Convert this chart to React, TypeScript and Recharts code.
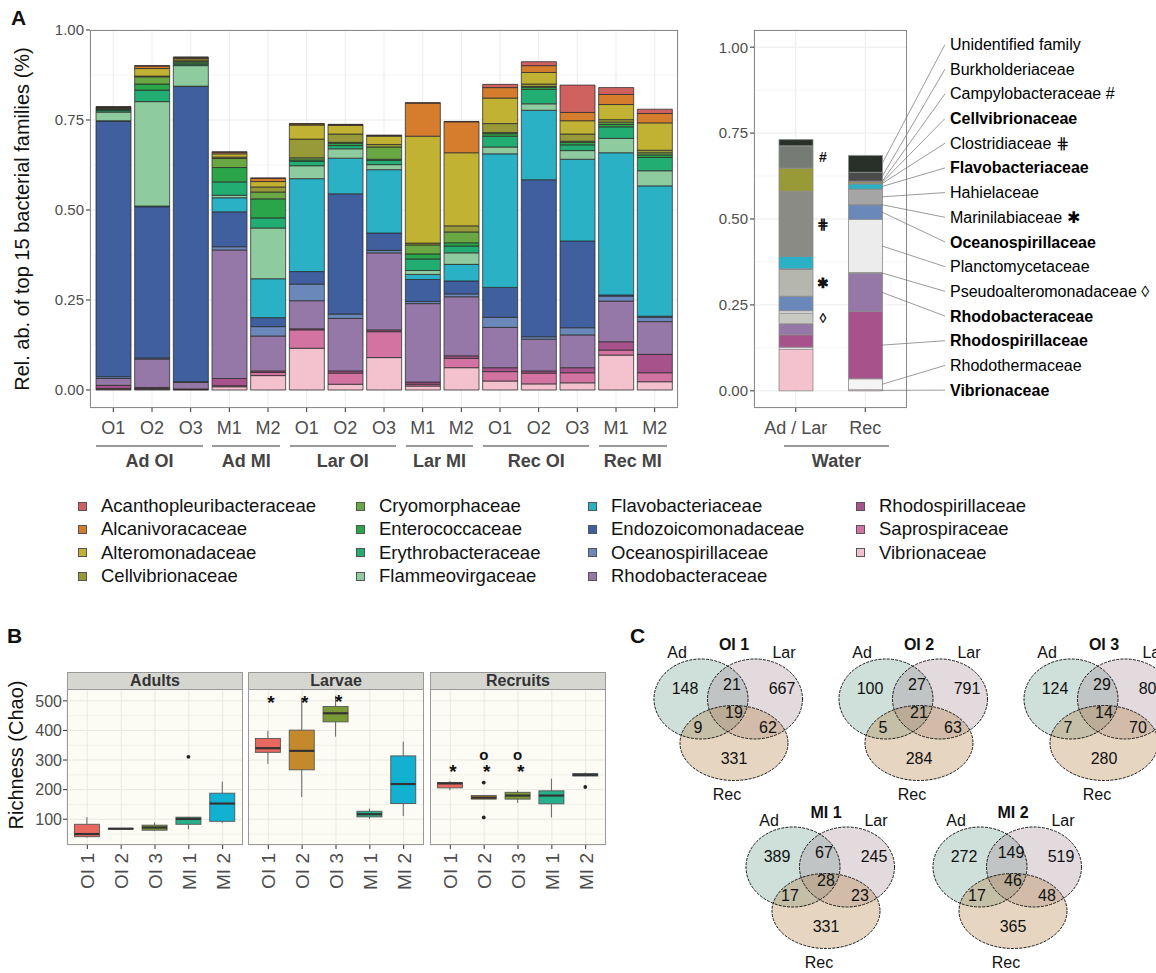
import React from 'react';
import {
  BarChart, Bar, XAxis, YAxis, CartesianGrid, ComposedChart, Line,
  ScatterChart, Scatter, LabelList,
} from 'recharts';

const FONT = '"Liberation Sans", Arial, Helvetica, sans-serif';
const NARROW = '"Liberation Sans Narrow", "Liberation Sans", Arial, sans-serif';
const AXIS_TEXT = '#4d4d4d';

// ---------- A: top 15 families in coral samples ----------
const groupNames = ['Ad OI', 'Ad MI', 'Lar OI', 'Lar MI', 'Rec OI', 'Rec MI'];
const groupSamples = [['O1', 'O2', 'O3'], ['M1', 'M2'], ['O1', 'O2', 'O3'], ['M1', 'M2'], ['O1', 'O2', 'O3'], ['M1', 'M2']];

// one value per bar, bars in the order of groupSamples
const acanthopleuribacteraceae = [0.001, 0.001, 0.001, 0.002, 0.001, 0.001, 0.001, 0.001, 0.001, 0.001, 0.009, 0.011, 0.076, 0.019, 0.012];
const alcanivoracaceae = [0.001, 0.007, 0.003, 0.004, 0.009, 0.003, 0.002, 0.002, 0.092, 0.086, 0.029, 0.019, 0.023, 0.028, 0.026];
const alteromonadaceae = [0.002, 0.021, 0.004, 0.009, 0.015, 0.039, 0.024, 0.023, 0.297, 0.203, 0.071, 0.032, 0.037, 0.042, 0.076];
const cellvibrionaceae = [0.002, 0.002, 0.004, 0.004, 0.014, 0.052, 0.023, 0.007, 0.005, 0.017, 0.025, 0.007, 0.02, 0.007, 0.007];
const cryomorphaceae = [0.002, 0.02, 0.004, 0.025, 0.019, 0.006, 0.003, 0.034, 0.025, 0.03, 0.003, 0.002, 0.003, 0.006, 0.006];
const enterococcaceae = [0.003, 0.017, 0.004, 0.04, 0.053, 0.004, 0.006, 0.003, 0.014, 0.009, 0.007, 0.006, 0.007, 0.007, 0.007];
const erythrobacteraceae = [0.004, 0.032, 0.004, 0.037, 0.028, 0.012, 0.009, 0.012, 0.032, 0.019, 0.03, 0.04, 0.016, 0.032, 0.037];
const flammeovirgaceae = [0.024, 0.29, 0.057, 0.007, 0.141, 0.036, 0.026, 0.014, 0.011, 0.032, 0.019, 0.018, 0.024, 0.04, 0.042];
const flavobacteriaceae = [0.002, 0.002, 0.001, 0.039, 0.108, 0.258, 0.099, 0.176, 0.014, 0.046, 0.371, 0.193, 0.227, 0.395, 0.362];
const endozoicomonadaceae = [0.709, 0.42, 0.82, 0.097, 0.025, 0.035, 0.334, 0.048, 0.061, 0.036, 0.083, 0.436, 0.241, 0.003, 0.003];
const oceanospirillaceae = [0.005, 0.003, 0.002, 0.009, 0.026, 0.046, 0.012, 0.007, 0.006, 0.008, 0.028, 0.007, 0.02, 0.014, 0.012];
const rhodobacteraceae = [0.019, 0.079, 0.018, 0.357, 0.097, 0.078, 0.146, 0.214, 0.218, 0.164, 0.112, 0.088, 0.091, 0.113, 0.091];
const rhodospirillaceae = [0.009, 0.003, 0.001, 0.02, 0.004, 0.003, 0.006, 0.005, 0.006, 0.007, 0.011, 0.006, 0.014, 0.023, 0.051];
const saprospiraceae = [0.002, 0.002, 0.001, 0.003, 0.009, 0.051, 0.031, 0.072, 0.005, 0.026, 0.026, 0.03, 0.028, 0.014, 0.025];
const vibrionaceae = [0.002, 0.002, 0.001, 0.009, 0.04, 0.116, 0.016, 0.09, 0.011, 0.062, 0.025, 0.017, 0.02, 0.097, 0.023];

// legend order (top of stack first)
const families = [
  { name: 'Acanthopleuribacteraceae', color: '#cf625f', values: acanthopleuribacteraceae },
  { name: 'Alcanivoracaceae', color: '#d67d2d', values: alcanivoracaceae },
  { name: 'Alteromonadaceae', color: '#c2b233', values: alteromonadaceae },
  { name: 'Cellvibrionaceae', color: '#979a36', values: cellvibrionaceae },
  { name: 'Cryomorphaceae', color: '#6aa843', values: cryomorphaceae },
  { name: 'Enterococcaceae', color: '#2ba549', values: enterococcaceae },
  { name: 'Erythrobacteraceae', color: '#22ad72', values: erythrobacteraceae },
  { name: 'Flammeovirgaceae', color: '#8ecb9e', values: flammeovirgaceae },
  { name: 'Flavobacteriaceae', color: '#2ab1c6', values: flavobacteriaceae },
  { name: 'Endozoicomonadaceae', color: '#3f5f9f', values: endozoicomonadaceae },
  { name: 'Oceanospirillaceae', color: '#6a89ba', values: oceanospirillaceae },
  { name: 'Rhodobacteraceae', color: '#9578a7', values: rhodobacteraceae },
  { name: 'Rhodospirillaceae', color: '#a8528b', values: rhodospirillaceae },
  { name: 'Saprospiraceae', color: '#d273a1', values: saprospiraceae },
  { name: 'Vibrionaceae', color: '#f4c2cf', values: vibrionaceae },
];

const mainKeys: string[] = [];
groupNames.forEach((g, gi) => groupSamples[gi].forEach((s) => mainKeys.push(`${g}|${s}`)));
const mainRows = mainKeys.map((key, i) => {
  const row: any = { key };
  families.forEach((f) => { row[f.name] = f.values[i]; });
  return row;
});

// ---------- A (right): water ----------
const waterSites = ['Ad / Lar', 'Rec'];
// bottom of the stack first
const waterFamilyNames = [
  'Vibrionaceae', 'Rhodothermaceae', 'Rhodospirillaceae', 'Rhodobacteraceae', 'Pseudoalteromonadaceae',
  'Planctomycetaceae', 'Oceanospirillaceae', 'Marinilabiaceae', 'Hahielaceae', 'Flavobacteriaceae',
  'Clostridiaceae', 'Cellvibrionaceae', 'Campylobacteraceae', 'Burkholderiaceae', 'Unidentified family',
];
const waterColors = [
  '#f4c2cf', '#f4f4f4', '#a8528b', '#9578a7', '#c8c9c3',
  '#ececec', '#6a89ba', '#b5b7af', '#a5a5a5', '#2ab1c6',
  '#8a8b84', '#979a36', '#777b76', '#4b4b4b', '#283029',
];
const waterAdLar = [0.121, 0.006, 0.036, 0.032, 0.031, 0.007, 0.042, 0.078, 0.002, 0.036, 0.19, 0.067, 0.063, 0.002, 0.018];
const waterRec = [0.003, 0.032, 0.196, 0.111, 0.002, 0.155, 0.042, 0.001, 0.045, 0.015, 0.002, 0.004, 0.002, 0.026, 0.049];
const waterMarks: Record<string, string> = {
  Campylobacteraceae: '#', Clostridiaceae: '⋕', Marinilabiaceae: '✱', Pseudoalteromonadaceae: '◊',
};
const sharedFamilies = ['Cellvibrionaceae', 'Flavobacteriaceae', 'Oceanospirillaceae', 'Rhodobacteraceae', 'Rhodospirillaceae', 'Vibrionaceae'];

const waterRows = waterSites.map((site, i) => {
  const row: any = { site };
  waterFamilyNames.forEach((n, j) => { row[n] = (i === 0 ? waterAdLar : waterRec)[j]; });
  return row;
});

// label column, top to bottom
const waterLabelNames = [...waterFamilyNames].reverse();
const labelPos = waterLabelNames.map((_, i) => 1.008 - (i * 1.006) / 14);
const leaders = (() => {
  let cum = 0;
  return waterFamilyNames.map((n, i) => {
    const mid = cum + waterRec[i] / 2;
    cum += waterRec[i];
    return { name: n, pts: [{ x: 0, y: mid }, { x: 1, y: labelPos[14 - i] }] };
  });
})();

// ---------- B: Chao richness ----------
const boxCats = ['OI 1', 'OI 2', 'OI 3', 'MI 1', 'MI 2'];
const boxColors = ['#e8685f', '#c4892b', '#7b9a36', '#26b08b', '#12b1d2'];
// [lower whisker, Q1, median, Q3, upper whisker]
const adultsStats = [[38, 41, 50, 83, 107], [66, 67, 68, 69, 70], [60, 63, 72, 80, 89], [66, 83, 101, 107, 108], [87, 93, 153, 188, 227]];
const larvaeStats = [[287, 326, 340, 373, 399], [175, 267, 331, 401, 506], [379, 429, 458, 481, 517], [101, 108, 117, 127, 136], [111, 153, 219, 314, 362]];
const recruitsStats = [[198, 206, 221, 224, 229], [167, 168, 173, 180, 181], [155, 168, 180, 191, 198], [106, 152, 180, 196, 237], [245, 246, 250, 254, 258]];
const adultsOutliers = [[], [], [], [311], []];
const larvaeOutliers = [[], [], [], [], []];
const recruitsOutliers = [[], [224, 106], [], [], [209]];
const adultsStars = [null, null, null, null, null];
const larvaeStars = [505, 505, 508, null, null];
const recruitsStars = [274, 274, 274, null, null];
const recruitsCircles = [null, 315, 315, null, null];

const facets = [
  { title: 'Adults', stats: adultsStats, outliers: adultsOutliers, stars: adultsStars, circles: [null, null, null, null, null], left: 0, plotLeft: 67 },
  { title: 'Larvae', stats: larvaeStats, outliers: larvaeOutliers, stars: larvaeStars, circles: [null, null, null, null, null], left: 248, plotLeft: 248 },
  { title: 'Recruits', stats: recruitsStats, outliers: recruitsOutliers, stars: recruitsStars, circles: recruitsCircles, left: 430, plotLeft: 430 },
];

// ---------- C: Venn diagrams ----------
const vennTitles = ['OI 1', 'OI 2', 'OI 3', 'MI 1', 'MI 2'];
const adOnly = [148, 100, 124, 389, 272];
const adLar = [21, 27, 29, 67, 149];
const larOnly = [667, 791, 802, 245, 519];
const allThree = [19, 21, 14, 28, 46];
const adRec = [9, 5, 7, 17, 17];
const larRec = [62, 63, 70, 23, 48];
const recOnly = [331, 284, 280, 331, 365];

const vennAnchors = [[734, 644], [919, 644], [1104, 644], [826, 812], [1013, 812]];
const vennSets = [
  { dx: -33, dy: 55, rx: 47, ry: 40, fill: '#5f9884' },
  { dx: 21, dy: 55, rx: 47.5, ry: 40, fill: '#a18391' },
  { dx: 0, dy: 99, rx: 54, ry: 37.5, fill: '#ab732d' },
];
const vennSlots = [
  { values: adOnly, dx: -49, dy: 44 }, { values: adLar, dx: -2, dy: 40 }, { values: larOnly, dx: 48, dy: 44 },
  { values: allThree, dx: 0, dy: 68 }, { values: adRec, dx: -36, dy: 83 }, { values: larRec, dx: 34, dy: 83 },
  { values: recOnly, dx: 0, dy: 114 },
];

const ellipseData: any[] = [];
const vennText: any[] = [];
vennAnchors.forEach(([ax, ay], v) => {
  vennSets.forEach((s) => ellipseData.push({ x: ax + s.dx, y: ay + s.dy, rx: s.rx, ry: s.ry, fill: s.fill }));
  vennText.push({ x: ax, y: ay, t: vennTitles[v], bold: true });
  vennText.push({ x: ax - 57, y: ay + 8, t: 'Ad' });
  vennText.push({ x: ax + 50, y: ay + 8, t: 'Lar' });
  vennText.push({ x: ax - 7, y: ay + 150, t: 'Rec' });
  vennSlots.forEach((sl) => vennText.push({ x: ax + sl.dx, y: ay + sl.dy, t: String(sl.values[v]) }));
});

// ---------- helpers ----------
const centered = (x: number, y: number, style: any = {}) => ({
  position: 'absolute' as const, left: x, top: y, transform: 'translate(-50%, -50%)', whiteSpace: 'nowrap' as const, ...style,
});

const RotTick = (props: any) => {
  const { x, y, payload } = props;
  return (
    <text x={x} y={y} dy="0.36em" textAnchor="end" transform={`rotate(-90 ${x} ${y})`} fontSize={19} fill={AXIS_TEXT}>
      {payload.value}
    </text>
  );
};

const NameTick = (props: any) => {
  const { x, y, payload } = props;
  const i = labelPos.indexOf(payload.value);
  const name = waterLabelNames[i];
  if (!name) return null;
  const mark = waterMarks[name];
  return (
    <text x={x} y={y} dy="0.35em" textAnchor="start" fontSize={16} fill="#000"
      fontWeight={sharedFamilies.includes(name) ? 'bold' : 'normal'}>
      {mark ? `${name} ${mark}` : name}
    </text>
  );
};

const markLabel = (sym: string) => (p: any) => {
  if (p.index !== 0) return null;
  const top = Math.min(p.y, p.y + p.height);
  return (
    <text x={p.x + p.width + 10} y={top + Math.abs(p.height) / 2} textAnchor="middle" dominantBaseline="central"
      fontSize={14} fontWeight="bold" fill="#111">{sym}</text>
  );
};

const BoxShape = (props: any) => {
  const { x, y, width, height, payload } = props;
  if (!payload) return null;
  const top = Math.min(y, y + height);
  const h = Math.abs(height);
  const [lo, q1, med, q3, hi] = payload.stats;
  const k = h / (hi - lo);
  const py = (v: number) => top + (hi - v) * k;
  const cx = x + width / 2;
  return (
    <g>
      <line x1={cx} x2={cx} y1={py(hi)} y2={py(q3)} stroke="#555" strokeWidth={0.9} />
      <line x1={cx} x2={cx} y1={py(q1)} y2={py(lo)} stroke="#555" strokeWidth={0.9} />
      <rect x={x} y={py(q3)} width={width} height={Math.max(py(q1) - py(q3), 0.5)} fill={payload.color} stroke="#555" strokeWidth={0.9} />
      <line x1={x} x2={x + width} y1={py(med)} y2={py(med)} stroke="#333" strokeWidth={2.2} />
      {payload.outliers.map((o: number, i: number) => (
        <circle key={i} cx={cx} cy={py(o)} r={1.9} fill="#222" />
      ))}
      {payload.star != null && (
        <text x={cx + 3} y={py(payload.star) + 10} textAnchor="middle" fontSize={19} fontWeight="bold" fill="#111">*</text>
      )}
      {payload.circle != null && (
        <text x={cx} y={py(payload.circle) + 4.5} textAnchor="middle" fontSize={15} fontWeight="bold" fill="#111">o</text>
      )}
    </g>
  );
};

const EllipseFill = (p: any) => (
  <ellipse cx={p.cx} cy={p.cy} rx={p.payload.rx} ry={p.payload.ry} fill={p.payload.fill} fillOpacity={0.3} stroke="none" />
);
const EllipseEdge = (p: any) => (
  <ellipse cx={p.cx} cy={p.cy} rx={p.payload.rx} ry={p.payload.ry} fill="none" stroke="#1a1a1a" strokeWidth={1} strokeDasharray="3 1.2" />
);
const VennLabel = (p: any) => (
  <text x={p.cx} y={p.cy} textAnchor="middle" dominantBaseline="central" fontSize={16}
    fontFamily={NARROW} fontWeight={p.payload.bold ? 'bold' : 'normal'} fill="#111">{p.payload.t}</text>
);

// main A geometry (for group underlines)
const A_LEFT = 90;
const A_PAD = 4;
const A_BAND = (588 - 2 * A_PAD) / mainKeys.length;

export default function App() {
  let idx = 0;
  const groupSpans = groupNames.map((g, gi) => {
    const first = idx;
    idx += groupSamples[gi].length;
    const c0 = A_LEFT + A_PAD + A_BAND * (first + 0.5);
    const c1 = A_LEFT + A_PAD + A_BAND * (idx - 0.5);
    return { g, x0: c0 - 17, x1: c1 + 12 };
  });

  const legendCols = [78, 356, 588, 856];
  const legendRows = [506, 529.3, 552.6, 576];

  return (
    <div style={{ position: 'absolute', left: 0, top: 0, width: 1156, height: 973, overflow: 'hidden', background: '#fff', fontFamily: FONT }}>
      {/* ---------------- Panel A ---------------- */}
      <div style={{ position: 'absolute', left: 11, top: 6, fontSize: 21, fontWeight: 'bold', color: '#111' }}>A</div>
      <div style={centered(22, 219, { transform: 'translate(-50%, -50%) rotate(-90deg)', fontSize: 20, color: '#111' })}>
        Rel. ab. of top 15 bacterial families (%)
      </div>

      <div style={{ position: 'absolute', left: 0, top: 0 }}>
        <BarChart width={700} height={438} data={mainRows} margin={{ top: 30, right: 22, bottom: 0, left: 30 }} barSize={35}>
          <CartesianGrid horizontalValues={[0.125, 0.375, 0.625, 0.875]} vertical={false} stroke="#f5f5f5" />
          <CartesianGrid stroke="#ebebeb" />
          <XAxis dataKey="key" interval={0} height={30} padding={{ left: A_PAD, right: A_PAD }}
            tickFormatter={(v: string) => v.split('|')[1]} tickSize={4} tickMargin={9}
            axisLine={false} tickLine={{ stroke: '#333' }} tick={{ fontSize: 18, fill: AXIS_TEXT }} />
          <YAxis width={60} domain={[-0.05, 1]} allowDataOverflow ticks={[0, 0.25, 0.5, 0.75, 1]}
            tickFormatter={(v: number) => v.toFixed(2)} tickSize={4} tickMargin={2}
            axisLine={false} tickLine={{ stroke: '#333' }} tick={{ fontSize: 15, fill: AXIS_TEXT }} />
          {[...families].reverse().map((f) => (
            <Bar key={f.name} dataKey={f.name} stackId="a" fill={f.color} stroke="#2b2b2b" strokeWidth={0.9}
              strokeOpacity={0.85} isAnimationActive={false} />
          ))}
        </BarChart>
      </div>
      <div style={{ position: 'absolute', left: 90, top: 30, width: 588, height: 378, border: '1px solid #8a8a8a', boxSizing: 'border-box' }} />

      {groupSpans.map((s) => (
        <React.Fragment key={s.g}>
          <div style={{ position: 'absolute', left: s.x0, top: 445, width: s.x1 - s.x0, height: 2, background: '#9a9a9a' }} />
          <div style={centered((s.x0 + s.x1) / 2, 461, { fontSize: 18, fontWeight: 'bold', color: '#444' })}>{s.g}</div>
        </React.Fragment>
      ))}

      {/* water */}
      <div style={{ position: 'absolute', left: 700, top: 0 }}>
        <BarChart width={207} height={438} data={waterRows} margin={{ top: 30, right: 0, bottom: 0, left: 0 }} barSize={34}>
          <CartesianGrid horizontalValues={[0.125, 0.375, 0.625, 0.875]} vertical={false} stroke="#f5f5f5" />
          <CartesianGrid stroke="#ebebeb" />
          <XAxis dataKey="site" interval={0} height={30} padding={{ left: 7, right: 7 }} tickSize={4} tickMargin={9}
            axisLine={false} tickLine={{ stroke: '#333' }} tick={{ fontSize: 18, fill: AXIS_TEXT }} />
          <YAxis width={54} domain={[-0.05, 1.05]} allowDataOverflow ticks={[0, 0.25, 0.5, 0.75, 1]}
            tickFormatter={(v: number) => v.toFixed(2)} tickSize={4} tickMargin={2}
            axisLine={false} tickLine={{ stroke: '#333' }} tick={{ fontSize: 15, fill: AXIS_TEXT }} />
          {waterFamilyNames.map((n, i) => (
            <Bar key={n} dataKey={n} stackId="w" fill={waterColors[i]} stroke="#8a8a8a" strokeWidth={0.8} isAnimationActive={false}>
              {waterMarks[n] ? <LabelList dataKey={n} content={markLabel(waterMarks[n])} /> : null}
            </Bar>
          ))}
        </BarChart>
      </div>
      <div style={{ position: 'absolute', left: 754, top: 30, width: 153, height: 378, border: '1px solid #8a8a8a', boxSizing: 'border-box' }} />
      <div style={{ position: 'absolute', left: 784, top: 445, width: 105, height: 2, background: '#9a9a9a' }} />
      <div style={centered(836.5, 461, { fontSize: 18, fontWeight: 'bold', color: '#444' })}>Water</div>

      {/* leader lines and water family names */}
      <div style={{ position: 'absolute', left: 882, top: 0 }}>
        <ComposedChart width={274} height={438} margin={{ top: 30, right: 0, bottom: 30, left: 0 }}>
          <XAxis type="number" dataKey="x" domain={[0, 1]} hide allowDataOverflow />
          <YAxis type="number" orientation="right" domain={[-0.05, 1.05]} allowDataOverflow ticks={labelPos}
            interval={0} width={211} tickSize={0} tickMargin={5} axisLine={false} tickLine={false} tick={<NameTick />} />
          {leaders.map((l) => (
            <Line key={l.name} data={l.pts} dataKey="y" stroke="#6e6e6e" strokeWidth={0.7} dot={false}
              activeDot={false} isAnimationActive={false} />
          ))}
        </ComposedChart>
      </div>

      {/* legend */}
      {families.map((f, i) => {
        const c = Math.floor(i / 4);
        const r = i % 4;
        return (
          <React.Fragment key={f.name}>
            <div style={{ position: 'absolute', left: legendCols[c], top: legendRows[r] - 4.5, width: 9, height: 9, background: f.color, border: '0.8px solid #555', boxSizing: 'border-box' }} />
            <div style={{ position: 'absolute', left: legendCols[c] + 23, top: legendRows[r], transform: 'translateY(-50%)', fontSize: 18.5, color: '#111', whiteSpace: 'nowrap' }}>{f.name}</div>
          </React.Fragment>
        );
      })}

      {/* ---------------- Panel B ---------------- */}
      <div style={{ position: 'absolute', left: 7, top: 624, fontSize: 21, fontWeight: 'bold', color: '#111' }}>B</div>
      <div style={centered(16, 755, { transform: 'translate(-50%, -50%) rotate(-90deg)', fontSize: 20, color: '#111' })}>
        Richness (Chao)
      </div>
      {facets.map((f, fi) => {
        const rows = boxCats.map((cat, i) => ({
          cat, stats: f.stats[i], outliers: f.outliers[i], star: f.stars[i], circle: f.circles[i], color: boxColors[i],
        }));
        const first = fi === 0;
        return (
          <React.Fragment key={f.title}>
            <div style={{ position: 'absolute', left: f.left, top: 689 }}>
              <ComposedChart width={first ? 243 : 176} height={206} data={rows} margin={{ top: 0, right: 0, bottom: 0, left: 0 }}>
                <CartesianGrid fill="#fcfcf4" horizontalValues={[50, 150, 250, 350, 450]} vertical={false} stroke="#f1f1ea" />
                <CartesianGrid stroke="#e9e9e2" />
                <XAxis dataKey="cat" interval={0} height={50} padding={{ left: 3.4, right: 3.4 }} tickSize={4} tickMargin={4}
                  axisLine={false} tickLine={{ stroke: '#333' }} tick={<RotTick />} />
                <YAxis hide={!first} width={67} domain={[13, 540]} allowDataOverflow ticks={[100, 200, 300, 400, 500]}
                  tickSize={4} tickMargin={1} axisLine={false} tickLine={{ stroke: '#333' }} tick={{ fontSize: 16, fill: AXIS_TEXT }} />
                <Bar dataKey={(d: any) => [d.stats[0], d.stats[4]]} barSize={25} shape={<BoxShape />} isAnimationActive={false} />
              </ComposedChart>
            </div>
            <div style={{ position: 'absolute', left: f.plotLeft, top: 689, width: 176, height: 156, border: '1px solid #999', boxSizing: 'border-box' }} />
            <div style={{ position: 'absolute', left: f.plotLeft, top: 672, width: 176, height: 18, background: '#d6d6d1', border: '1px solid #999', boxSizing: 'border-box', display: 'flex', alignItems: 'center', justifyContent: 'center', fontSize: 16, fontWeight: 'bold', color: '#333' }}>
              {f.title}
            </div>
          </React.Fragment>
        );
      })}

      {/* ---------------- Panel C ---------------- */}
      <div style={{ position: 'absolute', left: 630, top: 624, fontSize: 21, fontWeight: 'bold', color: '#111' }}>C</div>
      <div style={{ position: 'absolute', left: 620, top: 620 }}>
        <ScatterChart width={536} height={353} margin={{ top: 0, right: 0, bottom: 0, left: 0 }}>
          <XAxis type="number" dataKey="x" domain={[620, 1156]} hide allowDataOverflow />
          <YAxis type="number" dataKey="y" domain={[620, 973]} reversed hide allowDataOverflow />
          <Scatter data={ellipseData} shape={<EllipseFill />} isAnimationActive={false} />
          <Scatter data={ellipseData} shape={<EllipseEdge />} isAnimationActive={false} />
          <Scatter data={vennText} shape={<VennLabel />} isAnimationActive={false} />
        </ScatterChart>
      </div>
    </div>
  );
}
